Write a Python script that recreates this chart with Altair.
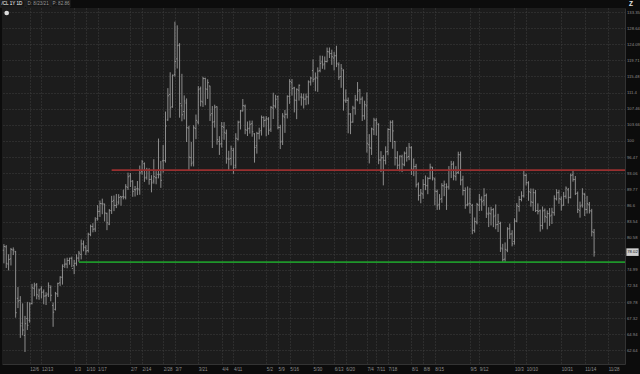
import json
import pandas as pd
import altair as alt

# ---------------- data ----------------
first_day = "2021-11-18"
last_axis_day = "2022-12-09"
holidays = ["2021-11-25", "2021-12-24", "2022-01-17", "2022-02-21", "2022-04-15",
            "2022-05-30", "2022-06-20", "2022-07-04", "2022-09-05"]

opens = [
    78.36, 78.94, 75.96, 76.87, 78.40, 78.09, 70.38, 70.06,
    66.57, 64.77, 67.27, 67.01, 69.55, 71.97, 72.56, 70.72, 71.86, 71.40, 70.76, 71.05, 72.10, 69.27, 68.67, 71.06, 72.85, 73.76, 75.83, 75.97, 76.57, 76.91,
    75.69, 76.12, 77.00, 77.62, 79.47, 78.78, 78.30, 81.17, 82.60, 82.16, 84.10, 85.46, 86.92, 86.86, 85.07, 83.06, 85.58, 87.58, 86.57, 87.25,
    88.36, 88.31, 88.18, 90.17, 92.50, 91.47, 89.71, 89.88, 89.66, 93.36, 95.05, 92.23, 93.71, 91.78, 91.44, 92.11, 92.77, 92.69, 95.65,
    95.69, 104.80, 110.91, 107.93, 116.01, 120.10, 123.83, 108.16, 106.80, 108.84, 102.90, 96.34, 95.38, 102.80, 104.31, 112.37, 109.09, 114.97, 112.16, 113.05, 106.29, 104.45, 107.93,
    99.88, 99.40, 103.10, 101.74, 96.02, 96.18, 97.91, 94.72, 100.40, 104.33, 106.92, 108.09, 102.40, 102.89, 103.92, 101.60, 98.93, 101.71, 102.33, 105.47,
    104.77, 104.97, 102.69, 107.63, 108.06, 110.39, 103.06, 99.94, 105.46, 106.15, 110.46, 113.89, 112.57, 109.43, 112.00, 110.29, 110.09, 109.83, 110.33, 114.06, 117.01,
    114.87, 115.04, 116.98, 119.29, 118.77, 119.38, 121.98, 121.57, 120.34, 120.95, 118.56, 115.45, 117.15, 109.33, 109.47, 106.22, 104.33, 107.61, 109.71, 112.09, 109.81,
    105.77, 108.13, 99.16, 98.36, 102.54, 104.71, 103.71, 95.82, 96.32, 95.75, 97.68, 102.59, 104.30, 99.88, 96.27, 94.78, 96.53, 94.82, 97.36, 96.58,
    98.49, 93.77, 94.47, 90.82, 88.62, 88.85, 90.73, 90.47, 92.00, 94.31, 91.85, 89.32, 86.81, 87.92, 90.46, 90.20, 90.25, 93.63, 95.02, 92.34, 93.21, 96.94, 91.70,
    89.53, 86.76, 87.02, 86.60, 81.89, 83.42, 86.65, 87.66, 87.58, 88.57, 84.90, 84.98, 85.80, 84.71, 83.00, 83.16, 78.58, 76.81, 78.36, 82.22, 81.26,
    79.90, 83.60, 86.38, 87.76, 88.48, 92.58, 91.06, 89.12, 87.19, 89.06, 85.61, 85.57, 82.78, 85.67, 84.35, 85.00, 84.75, 85.20, 87.86, 89.10, 87.81,
    86.65, 88.41, 89.66, 88.17, 92.71, 91.74, 88.98, 85.59, 86.65, 88.73, 85.81, 86.72, 85.49, 81.55,
]
highs = [
    79.43, 79.25, 77.66, 78.76, 78.85, 78.24, 72.17, 70.72,
    69.59, 67.67, 69.82, 69.76, 72.69, 72.88, 72.81, 71.92, 72.30, 71.79, 71.34, 72.92, 72.44, 69.73, 71.39, 72.87, 73.93, 75.92, 76.92, 77.06, 77.04, 77.24,
    76.70, 77.64, 78.23, 80.24, 80.07, 79.25, 81.48, 82.96, 83.23, 84.34, 86.65, 87.55, 87.91, 86.94, 85.21, 85.91, 88.46, 88.54, 88.84, 88.80,
    88.40, 89.72, 90.80, 93.17, 93.10, 91.59, 90.43, 91.45, 94.66, 95.82, 95.31, 94.18, 94.09, 92.64, 96.00, 93.48, 100.54, 95.64, 99.10,
    106.78, 112.51, 116.57, 116.00, 130.50, 129.44, 124.40, 116.16, 110.70, 109.96, 103.45, 99.80, 103.57, 106.07, 113.01, 112.91, 115.40, 115.16, 114.75, 113.11, 108.10, 108.43, 108.03,
    101.07, 104.30, 104.30, 102.59, 97.83, 98.96, 98.47, 101.73, 104.64, 107.15, 109.81, 108.46, 104.43, 104.65, 104.65, 101.75, 102.05, 103.00, 105.84, 105.60,
    105.69, 105.44, 108.08, 111.37, 110.84, 110.64, 103.67, 106.40, 107.16, 110.71, 114.80, 114.82, 112.85, 112.44, 113.45, 111.22, 111.15, 111.15, 114.48, 115.40, 119.98,
    116.52, 117.84, 120.99, 120.95, 120.75, 123.18, 123.19, 122.60, 122.00, 123.68, 119.18, 118.73, 117.32, 112.19, 110.18, 106.40, 108.16, 110.84, 114.05, 112.26, 110.41,
    109.40, 111.45, 101.54, 103.01, 105.30, 105.22, 104.04, 97.74, 96.88, 98.80, 102.88, 104.68, 104.74, 100.00, 97.74, 96.81, 96.98, 97.67, 98.68, 99.55,
    98.83, 96.16, 95.01, 91.16, 89.83, 91.81, 92.59, 92.29, 95.05, 94.37, 92.14, 89.72, 88.81, 91.00, 91.53, 90.97, 94.54, 95.65, 95.56, 94.52, 97.63, 97.65, 92.53,
    90.15, 90.34, 90.07, 86.89, 84.29, 87.09, 88.85, 88.36, 89.99, 88.92, 86.24, 86.33, 86.06, 86.79, 84.99, 83.49, 79.48, 79.73, 82.49, 83.16, 81.93,
    84.15, 87.05, 88.42, 89.37, 93.64, 92.96, 91.40, 89.94, 89.91, 89.62, 86.99, 85.80, 86.39, 86.00, 85.63, 86.08, 86.14, 88.56, 89.78, 89.62, 88.37,
    89.24, 90.35, 90.04, 92.97, 93.74, 92.47, 89.33, 87.33, 89.98, 89.05, 88.46, 87.26, 85.94, 82.16,
]
lows = [
    76.09, 75.31, 74.90, 75.73, 77.51, 67.40, 68.86, 64.43,
    64.79, 62.43, 65.57, 66.65, 69.43, 70.70, 70.22, 70.15, 70.35, 69.45, 69.33, 70.58, 69.91, 66.04, 68.49, 70.58, 72.36, 72.56, 75.32, 75.26, 75.86, 75.45,
    74.27, 75.69, 76.36, 76.76, 78.17, 77.54, 77.95, 80.84, 81.55, 81.64, 83.71, 84.40, 84.91, 83.55, 81.94, 82.86, 84.96, 85.50, 86.08, 86.76,
    86.55, 87.77, 87.77, 89.64, 90.23, 88.27, 88.33, 88.61, 88.68, 92.75, 91.27, 91.72, 90.70, 89.16, 90.90, 90.78, 91.98, 90.06, 93.15,
    95.28, 104.60, 105.30, 107.68, 115.44, 117.55, 105.33, 104.49, 104.92, 99.76, 93.53, 94.48, 94.47, 100.40, 103.75, 108.03, 107.88, 108.30, 109.84, 104.56, 98.44, 103.02, 99.17,
    96.93, 98.54, 100.26, 95.05, 93.55, 94.69, 92.93, 94.04, 100.09, 102.59, 106.81, 101.52, 101.10, 101.65, 100.96, 95.28, 97.21, 100.34, 101.21, 103.10,
    101.03, 101.38, 102.03, 105.02, 107.54, 102.63, 98.20, 99.10, 101.82, 105.14, 108.62, 110.64, 106.58, 104.98, 109.42, 108.21, 107.51, 108.31, 108.50, 113.16, 113.98,
    111.73, 111.58, 116.55, 117.47, 117.25, 119.16, 120.34, 118.51, 117.05, 117.91, 114.60, 112.59, 107.00, 108.86, 101.72, 101.53, 104.15, 106.03, 109.26, 108.58, 104.56,
    104.86, 97.43, 95.10, 96.93, 101.31, 101.20, 94.94, 93.28, 90.56, 94.89, 96.87, 99.76, 98.28, 94.67, 93.91, 93.43, 93.28, 94.52, 95.49, 95.80,
    92.69, 92.44, 90.14, 87.53, 87.01, 87.88, 89.60, 88.79, 91.79, 91.55, 86.60, 85.73, 85.76, 87.11, 88.40, 85.73, 89.72, 92.05, 91.59, 91.52, 92.88, 90.58, 88.55,
    85.95, 86.43, 85.05, 81.20, 81.50, 83.01, 85.50, 85.56, 86.53, 84.21, 82.51, 82.81, 82.49, 82.11, 81.61, 78.05, 76.25, 76.29, 78.01, 80.34, 79.03,
    79.32, 83.41, 85.41, 87.38, 88.12, 90.54, 87.50, 86.36, 85.54, 85.32, 84.88, 81.67, 82.09, 83.33, 82.10, 82.72, 83.08, 84.63, 87.56, 86.91, 85.60,
    86.52, 87.90, 86.97, 87.96, 91.31, 88.63, 85.13, 84.26, 86.18, 84.57, 85.04, 85.05, 80.80, 77.24,
]
closes = [
    79.01, 76.10, 76.75, 78.50, 78.39, 68.15, 69.95, 66.18,
    65.57, 66.50, 66.26, 69.49, 72.05, 72.36, 70.94, 71.67, 71.29, 70.73, 70.87, 72.38, 70.86, 68.23, 71.12, 72.76, 73.79, 75.57, 75.98, 76.56, 76.99, 75.21,
    76.08, 76.99, 77.85, 79.46, 78.90, 78.23, 81.22, 82.64, 82.12, 83.82, 85.43, 86.96, 86.90, 85.14, 83.31, 85.60, 87.35, 86.61, 86.82, 88.15,
    88.20, 88.26, 90.27, 92.31, 91.32, 89.36, 89.66, 89.88, 93.10, 95.46, 92.07, 93.66, 91.76, 91.07, 92.35, 92.10, 92.81, 91.59, 95.72,
    103.41, 110.60, 107.67, 115.68, 119.40, 123.70, 108.70, 106.02, 109.33, 103.01, 96.44, 95.04, 102.98, 104.70, 112.12, 109.27, 114.93, 112.34, 113.90, 105.96, 104.24, 107.82, 100.28,
    99.27, 103.28, 101.96, 96.23, 96.03, 98.26, 94.29, 100.60, 104.25, 106.95, 108.21, 102.56, 102.75, 103.79, 102.07, 98.54, 101.70, 102.02, 105.36, 104.69,
    105.17, 102.41, 107.81, 108.26, 109.77, 103.09, 99.76, 105.71, 106.13, 110.49, 114.20, 112.40, 109.59, 112.21, 113.23, 110.29, 109.77, 110.33, 114.09, 115.07, 114.67,
    115.26, 116.87, 118.87, 118.50, 119.41, 122.11, 121.51, 120.67, 120.93, 118.93, 115.31, 117.59, 109.56, 109.52, 106.19, 104.27, 107.62, 109.57, 111.76, 109.78, 105.76,
    108.43, 99.50, 98.53, 102.73, 104.79, 104.09, 95.84, 96.30, 95.78, 97.59, 102.60, 104.22, 102.26, 96.35, 94.70, 96.70, 94.98, 97.26, 96.42, 98.62,
    93.89, 94.42, 90.66, 88.54, 89.01, 90.76, 90.50, 91.93, 94.34, 92.09, 89.41, 86.53, 87.79, 90.50, 90.77, 90.23, 93.74, 94.89, 92.52, 93.06, 97.01, 91.64, 89.55,
    86.61, 86.87, 86.88, 81.94, 83.54, 86.79, 87.78, 87.31, 88.48, 85.10, 85.11, 85.73, 84.45, 82.94, 83.49, 78.74, 76.71, 78.50, 82.15, 81.23, 79.49,
    83.63, 86.52, 87.76, 88.45, 92.64, 91.13, 89.35, 87.27, 89.11, 85.61, 85.46, 82.82, 85.55, 84.51, 85.05, 84.58, 85.32, 87.91, 89.08, 87.90, 86.53,
    88.37, 90.00, 88.17, 92.61, 91.79, 88.91, 85.83, 86.47, 88.96, 85.87, 86.92, 85.59, 81.64, 78.02,
]

tick_dates = ["2021-12-06", "2021-12-13", "2022-01-03", "2022-01-10", "2022-01-18", "2022-02-07",
              "2022-02-14", "2022-02-28", "2022-03-07", "2022-03-21", "2022-04-04", "2022-04-11",
              "2022-05-02", "2022-05-09", "2022-05-16", "2022-05-31", "2022-06-13", "2022-06-21",
              "2022-07-05", "2022-07-11", "2022-07-18", "2022-08-01", "2022-08-08", "2022-08-15",
              "2022-09-06", "2022-09-12", "2022-10-03", "2022-10-10", "2022-10-31", "2022-11-14",
              "2022-11-28"]
tick_labels = ["12/6", "12/13", "1/3", "1/10", "1/17", "2/7", "2/14", "2/28", "3/7", "3/21",
               "4/4", "4/11", "5/2", "5/9", "5/16", "5/30", "6/13", "6/20", "7/4", "7/11",
               "7/18", "8/1", "8/8", "8/15", "9/5", "9/12", "10/3", "10/10", "10/31", "11/14",
               "11/28"]
price_ticks = [62.64, 64.94, 67.32, 69.78, 72.34, 74.99, 77.73, 80.58, 83.54, 86.6, 89.77,
               93.06, 96.47, 100, 103.66, 107.46, 111.4, 115.48, 119.71, 124.09, 128.64, 133.35]
hidden_price_label = 77.73  # covered by the last-price box in the reference

level_prices = [93.7, 76.3]
level_starts = ["2022-01-26", "2022-01-05"]
level_colors = ["#982f2f", "#1e962a"]

# ---------------- build ----------------
n = len(opens)
assert len(highs) == n and len(lows) == n and len(closes) == n, (len(opens), len(highs), len(lows), len(closes))
days = [d for d in pd.bdate_range(first_day, last_axis_day) if d.strftime("%Y-%m-%d") not in holidays]
day_index = {d.strftime("%Y-%m-%d"): i for i, d in enumerate(days)}

X_MIN, X_MAX = -0.82, 265.2
Y_MIN, Y_MAX = 60.78, 134.55
xs = alt.Scale(domain=[X_MIN, X_MAX], nice=False, zero=False)
ys = alt.Scale(type="log", domain=[Y_MIN, Y_MAX], nice=False)

df = pd.DataFrame({"i": list(range(n)), "date": [d.strftime("%Y-%m-%d") for d in days[:n]],
                   "open": opens, "high": highs, "low": lows, "close": closes})

tick_idx = [day_index[d] for d in tick_dates]
label_expr = f"{json.dumps(tick_labels)}[indexof({json.dumps(tick_idx)}, datum.value)]"

bar_color = "#9a9a9a"
grid_color = "#3e3e3e"
font = "Liberation Sans"

x_axis = alt.Axis(
    values=tick_idx, labelExpr=label_expr, title=None, grid=True, gridColor=grid_color,
    gridDash=[1, 2], gridWidth=1, ticks=False, domain=True, domainColor="#333333",
    labelAlign="left", labelBaseline="top", labelPadding=2, labelFontSize=4.5,
    labelColor="#8f8f8f", labelFont=font, labelOverlap=False, labelFlush=False)
y_axis = alt.Axis(
    orient="right", values=price_ticks,
    labelExpr=f"datum.value == {hidden_price_label} ? '' : '' + datum.value", title=None,
    grid=True, gridColor=grid_color, gridDash=[1, 2], gridWidth=1, ticks=False,
    domain=True, domainColor="#333333", labelPadding=1.5, labelFontSize=4.2,
    labelColor="#8f8f8f", labelFont=font, labelOverlap=False, labelFlush=False)

hl = alt.Chart(df).mark_rule(color=bar_color, strokeWidth=0.9).encode(
    x=alt.X("i:Q", scale=xs, axis=x_axis),
    y=alt.Y("low:Q", scale=ys, axis=y_axis),
    y2="high:Q",
)
op = alt.Chart(df).mark_rule(color=bar_color, strokeWidth=0.9, xOffset=-1.1).encode(
    x=alt.X("i:Q", scale=xs, axis=x_axis), x2="i:Q",
    y=alt.Y("open:Q", scale=ys, axis=y_axis))
cl = alt.Chart(df).mark_rule(color=bar_color, strokeWidth=0.9, x2Offset=1.1).encode(
    x=alt.X("i:Q", scale=xs, axis=x_axis), x2="i:Q",
    y=alt.Y("close:Q", scale=ys, axis=y_axis))

lv = pd.DataFrame({"start": [day_index[d] for d in level_starts], "end": [X_MAX] * len(level_prices),
                   "price": level_prices, "color": level_colors})
levels = alt.Chart(lv).mark_rule(strokeWidth=1.8).encode(
    x=alt.X("start:Q", scale=xs, axis=x_axis), x2="end:Q",
    y=alt.Y("price:Q", scale=ys, axis=y_axis),
    color=alt.Color("color:N", scale=None))

# last-price box on the price axis
last = pd.DataFrame({"close": [closes[-1]], "txt": [f"{closes[-1]:.2f}"]})
box = alt.Chart(last).mark_point(shape="M-1,-0.62L1,-0.62L1,0.62L-1,0.62Z", filled=True,
                                 fill="#cfcfcf", opacity=1, size=150, strokeWidth=0).encode(
    x=alt.value(630.5), y=alt.Y("close:Q", scale=ys, axis=y_axis))
box_txt = alt.Chart(last).mark_text(fontSize=4.2, font=font, color="#111111").encode(
    x=alt.value(630.5), y=alt.Y("close:Q", scale=ys, axis=y_axis), text="txt:N")

# header strip
hdr = pd.DataFrame({"x": [-2, 24, 49], "x2": [23, 48, 68],
                    "t": ["/CL 1Y 1D", "D: 8/23/21", "P: 82.86"],
                    "c": ["#ffffff", "#9a9a9a", "#9a9a9a"]})
hdr_box = alt.Chart(hdr).mark_rect(fill="#151515", stroke="#333333", strokeWidth=0.6).encode(
    x=alt.X("x:Q", scale=None), x2="x2:Q",
    y=alt.value(-8), y2=alt.value(-0.8))
hdr_txt = alt.Chart(hdr).mark_text(fontSize=4.6, font=font, align="left", baseline="middle",
                                   dx=1.5).encode(
    x=alt.X("x:Q", scale=None), y=alt.value(-4.3), text="t:N",
    color=alt.Color("c:N", scale=None))
icons = pd.DataFrame({"k": [0]})
dot = alt.Chart(icons).mark_point(filled=True, color="#dddddd", size=22, opacity=1).encode(
    x=alt.value(4.7), y=alt.value(5))
zed = alt.Chart(icons).mark_text(text="Z", fontSize=6.5, fontWeight="bold", font=font,
                                 color="#e6e6e6").encode(x=alt.value(629), y=alt.value(-4))

chart = alt.layer(hl, op, cl, levels, box, box_txt, hdr_box, hdr_txt, dot, zed).properties(
    width=623, height=356,
    autosize=alt.AutoSizeParams(type="none"),
    padding={"left": 2, "top": 8, "right": 15, "bottom": 10},
    background="#0c0c0c",
).configure_view(fill="#1c1c1c", strokeWidth=0)

chart.save("out.html", embed_options={"renderer": "svg", "actions": False})
